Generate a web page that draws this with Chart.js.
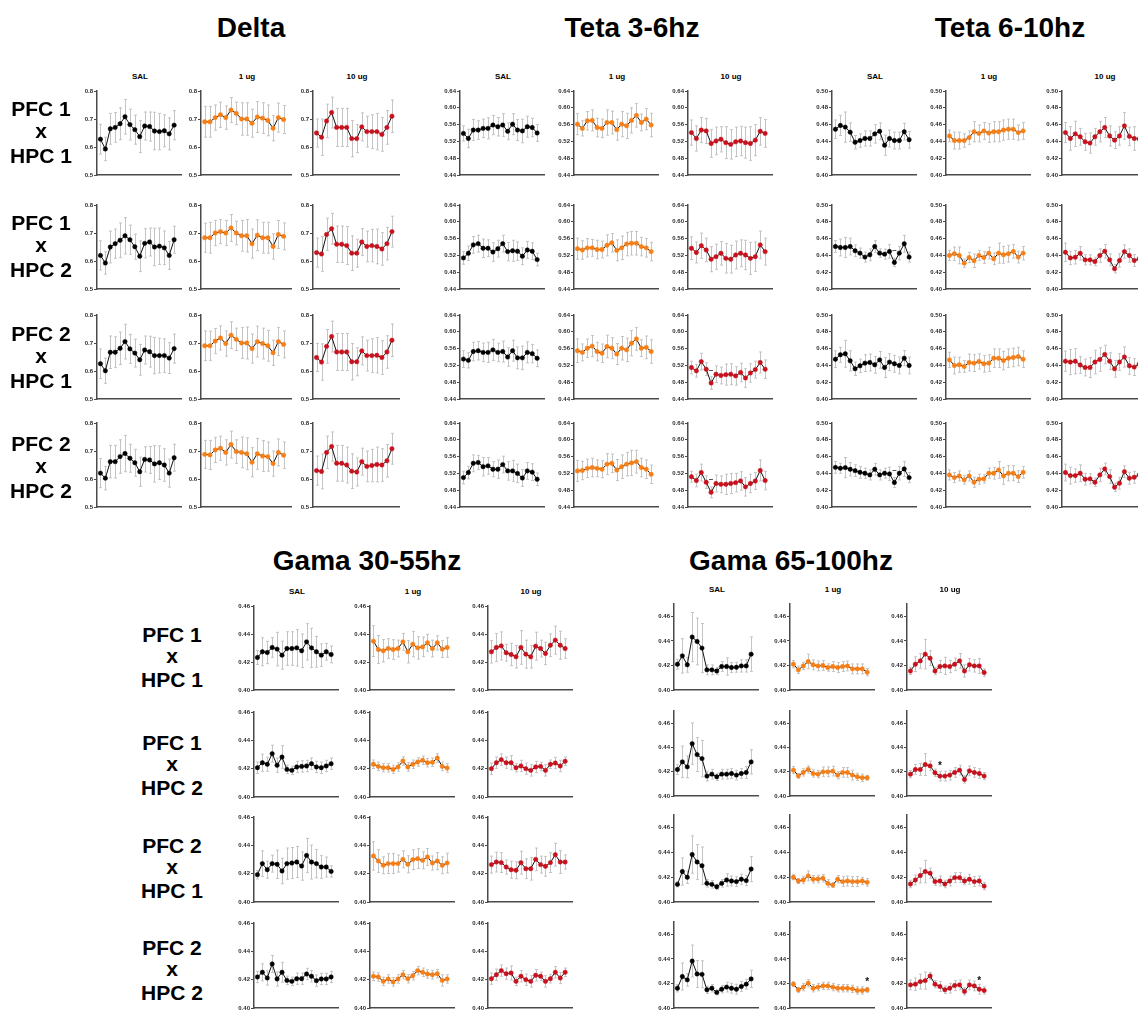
<!DOCTYPE html>
<html>
<head>
<meta charset="utf-8">
<script src="https://cdn.jsdelivr.net/npm/chart.js@4.4.1/dist/chart.umd.min.js"></script>
<style>
  html, body { margin: 0; padding: 0; background: #fff; }
  #page { position: relative; width: 1138px; height: 1010px; overflow: hidden;
          font-family: "Liberation Sans", Arial, sans-serif; color: #000; }
  .t { position: absolute; transform: translate(-50%, -50%); line-height: 1;
       font-weight: bold; white-space: nowrap; }
  canvas { position: absolute; }
</style>
</head>
<body>
<div id="page"></div>
<script>
// ---------- labels ----------
const bandTitles = ['Delta', 'Teta 3-6hz', 'Teta 6-10hz', 'Gama 30-55hz', 'Gama 65-100hz'];
const conditions = ['SAL', '1 ug', '10 ug'];
const pairLabels = [['PFC 1', 'x', 'HPC 1'], ['PFC 1', 'x', 'HPC 2'], ['PFC 2', 'x', 'HPC 1'], ['PFC 2', 'x', 'HPC 2']];

// ---------- y tick values per band ----------
const deltaTicks = [0.5, 0.6, 0.7, 0.8];
const teta36Ticks = [0.44, 0.48, 0.52, 0.56, 0.60, 0.64];
const teta610Ticks = [0.40, 0.42, 0.44, 0.46, 0.48, 0.50];
const gama3055Ticks = [0.40, 0.42, 0.44, 0.46];
const gama65100Ticks = [0.40, 0.42, 0.44, 0.46];

// ---------- coherence means (rows: PFC1xHPC1, PFC1xHPC2, PFC2xHPC1, PFC2xHPC2) ----------
const deltaSAL = [
  [0.628,0.593,0.665,0.670,0.683,0.708,0.680,0.662,0.637,0.675,0.673,0.657,0.655,0.658,0.647,0.678],
  [0.620,0.593,0.650,0.662,0.674,0.690,0.676,0.651,0.617,0.663,0.668,0.650,0.653,0.647,0.620,0.676],
  [0.626,0.601,0.667,0.667,0.681,0.705,0.679,0.664,0.640,0.675,0.669,0.655,0.655,0.655,0.646,0.680],
  [0.621,0.603,0.662,0.662,0.680,0.691,0.674,0.658,0.626,0.670,0.668,0.654,0.658,0.650,0.621,0.676]];
const deltaSALsd = [
  [0.053,0.042,0.055,0.053,0.057,0.062,0.055,0.052,0.057,0.050,0.052,0.067,0.065,0.057,0.057,0.052],
  [0.052,0.040,0.057,0.052,0.062,0.065,0.052,0.045,0.055,0.052,0.050,0.067,0.065,0.060,0.050,0.048],
  [0.053,0.045,0.058,0.055,0.058,0.062,0.052,0.050,0.055,0.050,0.055,0.065,0.062,0.060,0.055,0.052],
  [0.052,0.042,0.058,0.058,0.060,0.065,0.050,0.048,0.052,0.045,0.048,0.065,0.060,0.058,0.050,0.048]];
const delta1ug = [
  [0.690,0.690,0.705,0.715,0.705,0.732,0.720,0.700,0.700,0.685,0.707,0.703,0.695,0.667,0.705,0.698],
  [0.683,0.683,0.700,0.705,0.700,0.718,0.700,0.690,0.690,0.662,0.692,0.683,0.683,0.652,0.695,0.688],
  [0.690,0.690,0.707,0.718,0.698,0.728,0.713,0.700,0.700,0.680,0.705,0.698,0.690,0.665,0.705,0.695],
  [0.688,0.686,0.704,0.710,0.695,0.723,0.698,0.695,0.690,0.660,0.690,0.682,0.680,0.655,0.695,0.685]];
const delta1ugSd = [
  [0.055,0.055,0.045,0.045,0.042,0.045,0.040,0.058,0.058,0.050,0.055,0.055,0.055,0.045,0.052,0.050],
  [0.052,0.055,0.045,0.043,0.045,0.048,0.042,0.055,0.058,0.052,0.055,0.055,0.055,0.045,0.050,0.048],
  [0.053,0.052,0.045,0.043,0.045,0.048,0.040,0.055,0.057,0.052,0.055,0.055,0.055,0.045,0.050,0.048],
  [0.050,0.052,0.045,0.043,0.045,0.048,0.042,0.055,0.057,0.052,0.055,0.055,0.052,0.045,0.048,0.047]];
const delta10ug = [
  [0.650,0.635,0.693,0.723,0.670,0.670,0.670,0.630,0.630,0.672,0.655,0.655,0.655,0.645,0.670,0.710],
  [0.630,0.625,0.695,0.715,0.660,0.660,0.655,0.628,0.628,0.668,0.652,0.655,0.652,0.643,0.662,0.705],
  [0.648,0.632,0.688,0.723,0.668,0.668,0.668,0.633,0.633,0.672,0.655,0.655,0.656,0.648,0.668,0.710],
  [0.630,0.627,0.695,0.716,0.656,0.656,0.650,0.628,0.625,0.662,0.645,0.648,0.652,0.650,0.665,0.708]];
const delta10ugSd = [
  [0.050,0.065,0.060,0.055,0.068,0.068,0.068,0.065,0.050,0.050,0.055,0.060,0.065,0.060,0.060,0.058],
  [0.052,0.062,0.058,0.055,0.065,0.065,0.068,0.062,0.050,0.048,0.055,0.058,0.062,0.058,0.058,0.055],
  [0.050,0.065,0.060,0.055,0.066,0.066,0.066,0.065,0.050,0.050,0.055,0.060,0.063,0.060,0.058,0.058],
  [0.052,0.062,0.058,0.052,0.064,0.064,0.064,0.062,0.050,0.048,0.055,0.058,0.062,0.058,0.058,0.055]];

const teta36SAL = [
  [0.539,0.527,0.547,0.547,0.551,0.551,0.559,0.555,0.559,0.544,0.561,0.547,0.545,0.555,0.553,0.540],
  [0.514,0.525,0.545,0.548,0.537,0.537,0.528,0.536,0.548,0.529,0.531,0.530,0.518,0.533,0.530,0.510],
  [0.535,0.532,0.553,0.555,0.551,0.551,0.557,0.551,0.553,0.540,0.555,0.538,0.538,0.551,0.548,0.537],
  [0.510,0.522,0.544,0.546,0.536,0.538,0.530,0.530,0.541,0.526,0.526,0.520,0.509,0.526,0.523,0.506]];
const teta36SALsd = [
  [0.018,0.022,0.025,0.022,0.022,0.025,0.023,0.022,0.027,0.020,0.025,0.025,0.028,0.025,0.022,0.020],
  [0.015,0.017,0.020,0.020,0.022,0.020,0.022,0.020,0.020,0.022,0.025,0.022,0.020,0.020,0.020,0.015],
  [0.020,0.018,0.022,0.022,0.022,0.024,0.025,0.022,0.025,0.022,0.025,0.026,0.028,0.025,0.022,0.020],
  [0.015,0.015,0.020,0.017,0.022,0.020,0.018,0.022,0.020,0.022,0.025,0.022,0.020,0.020,0.020,0.015]];
const teta361ug = [
  [0.561,0.551,0.569,0.570,0.553,0.551,0.565,0.565,0.548,0.561,0.557,0.570,0.582,0.565,0.573,0.559],
  [0.536,0.533,0.538,0.538,0.534,0.534,0.544,0.550,0.532,0.538,0.547,0.549,0.549,0.541,0.538,0.529],
  [0.555,0.551,0.561,0.566,0.553,0.549,0.565,0.561,0.547,0.561,0.557,0.573,0.583,0.561,0.563,0.553],
  [0.526,0.527,0.532,0.534,0.532,0.530,0.542,0.544,0.528,0.536,0.542,0.545,0.548,0.534,0.530,0.518]];
const teta361ugSd = [
  [0.025,0.018,0.022,0.025,0.022,0.022,0.030,0.027,0.025,0.030,0.030,0.030,0.028,0.020,0.025,0.028],
  [0.025,0.022,0.022,0.020,0.022,0.020,0.025,0.022,0.025,0.028,0.028,0.028,0.028,0.022,0.022,0.022],
  [0.028,0.020,0.022,0.025,0.022,0.022,0.027,0.025,0.025,0.028,0.028,0.030,0.027,0.020,0.027,0.028],
  [0.025,0.022,0.022,0.022,0.020,0.020,0.025,0.022,0.025,0.028,0.028,0.030,0.027,0.022,0.022,0.022]];
const teta3610ug = [
  [0.541,0.527,0.547,0.545,0.515,0.521,0.525,0.517,0.513,0.519,0.521,0.517,0.515,0.523,0.544,0.539],
  [0.537,0.527,0.543,0.533,0.511,0.517,0.525,0.513,0.511,0.521,0.525,0.521,0.513,0.517,0.545,0.529],
  [0.515,0.507,0.529,0.511,0.478,0.499,0.496,0.498,0.499,0.495,0.503,0.490,0.502,0.510,0.527,0.511],
  [0.512,0.503,0.522,0.499,0.475,0.496,0.494,0.494,0.496,0.498,0.502,0.488,0.496,0.502,0.527,0.503]];
const teta3610ugSd = [
  [0.030,0.030,0.030,0.030,0.033,0.033,0.030,0.038,0.035,0.035,0.035,0.037,0.040,0.037,0.033,0.033],
  [0.027,0.025,0.030,0.028,0.030,0.030,0.028,0.035,0.033,0.033,0.032,0.035,0.038,0.035,0.033,0.032],
  [0.015,0.015,0.020,0.015,0.015,0.020,0.020,0.025,0.025,0.022,0.022,0.022,0.022,0.020,0.025,0.022],
  [0.013,0.015,0.020,0.015,0.013,0.020,0.020,0.024,0.024,0.022,0.022,0.022,0.022,0.020,0.025,0.022]];

const teta610SAL = [
  [0.4545,0.4590,0.4570,0.4510,0.4390,0.4410,0.4435,0.4435,0.4490,0.4520,0.4355,0.4435,0.4410,0.4410,0.4515,0.4420],
  [0.4506,0.4494,0.4494,0.4506,0.4455,0.4427,0.4380,0.4407,0.4506,0.4427,0.4415,0.4447,0.4316,0.4427,0.4538,0.4380],
  [0.4474,0.4526,0.4538,0.4455,0.4360,0.4395,0.4427,0.4435,0.4407,0.4466,0.4375,0.4439,0.4419,0.4399,0.4486,0.4399],
  [0.4472,0.4461,0.4469,0.4449,0.4433,0.4413,0.4402,0.4382,0.4449,0.4382,0.4402,0.4394,0.4291,0.4402,0.4453,0.4350]];
const teta610SALsd = [
  [0.011,0.012,0.018,0.011,0.008,0.008,0.009,0.009,0.011,0.010,0.012,0.010,0.010,0.010,0.010,0.010],
  [0.007,0.010,0.012,0.010,0.007,0.006,0.006,0.007,0.007,0.005,0.006,0.008,0.005,0.008,0.010,0.006],
  [0.010,0.009,0.016,0.012,0.008,0.008,0.010,0.010,0.010,0.010,0.012,0.010,0.010,0.010,0.009,0.010],
  [0.007,0.006,0.012,0.008,0.007,0.007,0.006,0.006,0.007,0.006,0.006,0.008,0.006,0.008,0.009,0.006]];
const teta6101ug = [
  [0.4465,0.4410,0.4410,0.4410,0.4445,0.4515,0.4495,0.4525,0.4500,0.4515,0.4515,0.4535,0.4545,0.4545,0.4505,0.4525],
  [0.4400,0.4420,0.4400,0.4308,0.4375,0.4336,0.4400,0.4375,0.4427,0.4360,0.4427,0.4407,0.4420,0.4447,0.4380,0.4427],
  [0.4466,0.4399,0.4407,0.4387,0.4435,0.4427,0.4447,0.4419,0.4427,0.4486,0.4486,0.4458,0.4486,0.4494,0.4506,0.4474],
  [0.4382,0.4350,0.4370,0.4323,0.4370,0.4295,0.4331,0.4335,0.4402,0.4402,0.4441,0.4370,0.4402,0.4402,0.4362,0.4413]];
const teta6101ugSd = [
  [0.007,0.010,0.010,0.008,0.008,0.012,0.010,0.010,0.011,0.012,0.012,0.012,0.012,0.012,0.009,0.010],
  [0.006,0.008,0.010,0.005,0.006,0.008,0.006,0.007,0.007,0.007,0.012,0.010,0.010,0.008,0.007,0.008],
  [0.009,0.010,0.009,0.007,0.010,0.010,0.009,0.010,0.010,0.011,0.011,0.011,0.011,0.011,0.011,0.010],
  [0.006,0.006,0.006,0.005,0.006,0.006,0.006,0.005,0.006,0.007,0.010,0.010,0.009,0.009,0.007,0.007]];
const teta61010ug = [
  [0.4505,0.4435,0.4490,0.4455,0.4395,0.4380,0.4455,0.4515,0.4565,0.4465,0.4415,0.4465,0.4585,0.4460,0.4435,0.4430],
  [0.4437,0.4370,0.4378,0.4425,0.4347,0.4347,0.4327,0.4398,0.4449,0.4347,0.4241,0.4339,0.4445,0.4398,0.4339,0.4360],
  [0.4450,0.4440,0.4450,0.4405,0.4375,0.4375,0.4440,0.4470,0.4530,0.4450,0.4360,0.4440,0.4500,0.4395,0.4380,0.4415],
  [0.4410,0.4374,0.4374,0.4402,0.4331,0.4335,0.4295,0.4382,0.4453,0.4362,0.4236,0.4283,0.4421,0.4343,0.4354,0.4382]];
const teta61010ugSd = [
  [0.012,0.014,0.015,0.010,0.010,0.012,0.010,0.012,0.012,0.012,0.010,0.011,0.016,0.011,0.014,0.010],
  [0.011,0.008,0.008,0.008,0.006,0.006,0.005,0.008,0.008,0.007,0.005,0.008,0.008,0.008,0.007,0.007],
  [0.012,0.015,0.015,0.010,0.010,0.012,0.014,0.014,0.011,0.010,0.010,0.010,0.012,0.010,0.010,0.010],
  [0.010,0.010,0.008,0.010,0.007,0.006,0.005,0.008,0.007,0.008,0.005,0.007,0.007,0.007,0.007,0.008]];

const gama3055SAL = [
  [0.4232,0.4273,0.4268,0.4304,0.4292,0.4249,0.4296,0.4296,0.4301,0.4280,0.4344,0.4301,0.4273,0.4249,0.4273,0.4254],
  [0.4207,0.4242,0.4231,0.4306,0.4224,0.4282,0.4195,0.4188,0.4212,0.4216,0.4219,0.4235,0.4212,0.4207,0.4219,0.4235],
  [0.4193,0.4271,0.4228,0.4271,0.4266,0.4219,0.4271,0.4275,0.4282,0.4254,0.4329,0.4282,0.4271,0.4247,0.4247,0.4216],
  [0.4219,0.4252,0.4212,0.4311,0.4205,0.4252,0.4195,0.4188,0.4207,0.4207,0.4240,0.4224,0.4193,0.4205,0.4205,0.4219]];
const gama3055SALsd = [
  [0.005,0.010,0.008,0.007,0.012,0.010,0.012,0.012,0.013,0.012,0.013,0.014,0.011,0.008,0.006,0.006],
  [0.004,0.006,0.005,0.006,0.005,0.008,0.003,0.003,0.004,0.004,0.004,0.004,0.004,0.004,0.004,0.004],
  [0.003,0.009,0.006,0.006,0.010,0.009,0.011,0.011,0.011,0.010,0.012,0.012,0.010,0.008,0.007,0.004],
  [0.004,0.006,0.005,0.006,0.005,0.007,0.003,0.003,0.004,0.004,0.004,0.004,0.004,0.004,0.004,0.004]];
const gama30551ug = [
  [0.4349,0.4289,0.4280,0.4296,0.4289,0.4296,0.4344,0.4273,0.4327,0.4301,0.4308,0.4337,0.4296,0.4337,0.4292,0.4304],
  [0.4231,0.4216,0.4207,0.4207,0.4195,0.4212,0.4254,0.4212,0.4231,0.4247,0.4259,0.4242,0.4245,0.4275,0.4216,0.4205],
  [0.4325,0.4289,0.4259,0.4271,0.4271,0.4271,0.4301,0.4266,0.4299,0.4306,0.4294,0.4318,0.4275,0.4289,0.4259,0.4275],
  [0.4224,0.4219,0.4188,0.4205,0.4184,0.4205,0.4235,0.4207,0.4228,0.4264,0.4252,0.4240,0.4235,0.4242,0.4195,0.4205]];
const gama30551ugSd = [
  [0.011,0.010,0.008,0.007,0.007,0.006,0.006,0.008,0.009,0.008,0.007,0.006,0.006,0.005,0.006,0.007],
  [0.003,0.003,0.003,0.003,0.003,0.003,0.003,0.003,0.003,0.003,0.003,0.003,0.003,0.003,0.003,0.003],
  [0.010,0.008,0.006,0.007,0.007,0.006,0.006,0.006,0.007,0.007,0.006,0.006,0.005,0.006,0.006,0.007],
  [0.003,0.003,0.003,0.003,0.003,0.003,0.003,0.003,0.003,0.003,0.003,0.003,0.003,0.003,0.004,0.003]];
const gama305510ug = [
  [0.4273,0.4304,0.4315,0.4266,0.4254,0.4237,0.4304,0.4256,0.4237,0.4313,0.4296,0.4261,0.4320,0.4356,0.4320,0.4296],
  [0.4200,0.4242,0.4264,0.4242,0.4242,0.4207,0.4219,0.4200,0.4188,0.4212,0.4216,0.4188,0.4231,0.4240,0.4219,0.4252],
  [0.4264,0.4282,0.4278,0.4247,0.4228,0.4224,0.4278,0.4235,0.4235,0.4301,0.4264,0.4252,0.4278,0.4334,0.4282,0.4282],
  [0.4207,0.4235,0.4264,0.4242,0.4247,0.4188,0.4224,0.4200,0.4188,0.4231,0.4224,0.4188,0.4207,0.4252,0.4212,0.4252]];
const gama305510ugSd = [
  [0.008,0.010,0.010,0.006,0.008,0.008,0.012,0.010,0.008,0.010,0.006,0.008,0.008,0.010,0.010,0.007],
  [0.004,0.004,0.004,0.004,0.005,0.003,0.004,0.004,0.004,0.004,0.003,0.004,0.003,0.004,0.004,0.003],
  [0.006,0.007,0.007,0.005,0.006,0.006,0.008,0.007,0.008,0.008,0.006,0.007,0.007,0.008,0.008,0.005],
  [0.004,0.004,0.004,0.004,0.005,0.003,0.004,0.004,0.004,0.004,0.003,0.004,0.003,0.004,0.004,0.003]];

const gama65100SAL = [
  [0.4210,0.4278,0.4205,0.4431,0.4395,0.4341,0.4164,0.4164,0.4155,0.4191,0.4191,0.4183,0.4185,0.4196,0.4196,0.4292],
  [0.4218,0.4281,0.4240,0.4431,0.4341,0.4308,0.4164,0.4180,0.4158,0.4180,0.4180,0.4185,0.4172,0.4185,0.4194,0.4281],
  [0.4142,0.4245,0.4199,0.4382,0.4322,0.4292,0.4150,0.4142,0.4123,0.4150,0.4177,0.4169,0.4164,0.4183,0.4172,0.4265],
  [0.4161,0.4256,0.4229,0.4382,0.4277,0.4274,0.4148,0.4161,0.4127,0.4153,0.4170,0.4161,0.4153,0.4175,0.4194,0.4237]];
const gama65100SALsd = [
  [0.004,0.014,0.006,0.020,0.019,0.020,0.004,0.004,0.003,0.004,0.007,0.004,0.004,0.005,0.005,0.014],
  [0.004,0.013,0.009,0.017,0.014,0.015,0.004,0.004,0.003,0.004,0.004,0.004,0.004,0.004,0.005,0.010],
  [0.002,0.011,0.005,0.015,0.014,0.015,0.003,0.003,0.002,0.003,0.005,0.004,0.004,0.004,0.004,0.010],
  [0.003,0.011,0.005,0.013,0.011,0.011,0.003,0.003,0.002,0.003,0.004,0.004,0.004,0.004,0.004,0.007]];
const gama651001ug = [
  [0.4210,0.4164,0.4196,0.4232,0.4205,0.4196,0.4199,0.4183,0.4191,0.4183,0.4191,0.4196,0.4172,0.4172,0.4172,0.4145],
  [0.4213,0.4166,0.4194,0.4218,0.4185,0.4180,0.4199,0.4199,0.4205,0.4172,0.4194,0.4194,0.4172,0.4158,0.4150,0.4150],
  [0.4199,0.4169,0.4177,0.4210,0.4183,0.4185,0.4191,0.4150,0.4136,0.4183,0.4164,0.4169,0.4164,0.4164,0.4169,0.4158],
  [0.4194,0.4148,0.4170,0.4202,0.4161,0.4170,0.4180,0.4180,0.4170,0.4161,0.4161,0.4161,0.4156,0.4143,0.4143,0.4148]];
const gama651001ugSd = [
  [0.003,0.003,0.003,0.006,0.004,0.004,0.004,0.003,0.004,0.004,0.004,0.004,0.004,0.004,0.004,0.003],
  [0.003,0.002,0.003,0.003,0.003,0.003,0.004,0.004,0.004,0.003,0.004,0.004,0.004,0.003,0.003,0.002],
  [0.002,0.002,0.003,0.004,0.003,0.003,0.003,0.003,0.002,0.003,0.004,0.004,0.004,0.004,0.003,0.003],
  [0.002,0.002,0.003,0.003,0.003,0.003,0.003,0.003,0.003,0.003,0.003,0.003,0.003,0.003,0.003,0.002]];
const gama6510010ug = [
  [0.4155,0.4210,0.4237,0.4292,0.4259,0.4155,0.4191,0.4196,0.4191,0.4210,0.4237,0.4155,0.4205,0.4196,0.4196,0.4142],
  [0.4180,0.4218,0.4218,0.4259,0.4248,0.4191,0.4164,0.4164,0.4172,0.4194,0.4213,0.4136,0.4207,0.4194,0.4185,0.4164],
  [0.4145,0.4177,0.4213,0.4245,0.4232,0.4164,0.4169,0.4145,0.4169,0.4196,0.4196,0.4169,0.4183,0.4164,0.4169,0.4128],
  [0.4188,0.4194,0.4215,0.4223,0.4261,0.4194,0.4175,0.4148,0.4161,0.4183,0.4188,0.4135,0.4188,0.4180,0.4153,0.4143]];
const gama6510010ugSd = [
  [0.003,0.006,0.006,0.012,0.006,0.003,0.005,0.007,0.005,0.005,0.006,0.005,0.005,0.005,0.006,0.003],
  [0.003,0.004,0.005,0.009,0.004,0.003,0.004,0.004,0.004,0.004,0.004,0.003,0.004,0.004,0.004,0.003],
  [0.003,0.004,0.006,0.009,0.004,0.003,0.004,0.003,0.004,0.004,0.004,0.003,0.004,0.004,0.004,0.003],
  [0.004,0.005,0.006,0.007,0.003,0.003,0.004,0.003,0.004,0.004,0.004,0.003,0.004,0.004,0.004,0.003]];

// significance marks: [band, row, condition, point index, value, symbol]
const sigMarks = [
  [1, 2, 2, 4, 0.510, '\u2013'], [1, 3, 2, 4, 0.506, '\u2013'],
  [2, 1, 0, 12, 0.4467, '\u2013'], [2, 3, 0, 12, 0.4441, '\u2013'],
  [4, 1, 2, 6, 0.4262, '*'], [4, 3, 1, 15, 0.4229, '*'], [4, 3, 2, 14, 0.4237, '*']
];

// ---------- styling ----------
const condColors = ['#000000', '#f77f17', '#c8111c'];
const FONT = "'Liberation Sans', Arial, sans-serif";
const AXIS = '#4a4a4a';

// band table assembled from the arrays above
const bands = [
  { title: bandTitles[0], means: [deltaSAL, delta1ug, delta10ug], sds: [deltaSALsd, delta1ugSd, delta10ugSd],
    ticks: deltaTicks, yMin: 0.5, yMax: 0.8, dec: 1 },
  { title: bandTitles[1], means: [teta36SAL, teta361ug, teta3610ug], sds: [teta36SALsd, teta361ugSd, teta3610ugSd],
    ticks: teta36Ticks, yMin: 0.44, yMax: 0.64, dec: 2 },
  { title: bandTitles[2], means: [teta610SAL, teta6101ug, teta61010ug], sds: [teta610SALsd, teta6101ugSd, teta61010ugSd],
    ticks: teta610Ticks, yMin: 0.40, yMax: 0.50, dec: 2 },
  { title: bandTitles[3], means: [gama3055SAL, gama30551ug, gama305510ug], sds: [gama3055SALsd, gama30551ugSd, gama305510ugSd],
    ticks: gama3055Ticks, yMin: 0.40, yMax: 0.46, dec: 2 },
  { title: bandTitles[4], means: [gama65100SAL, gama651001ug, gama6510010ug], sds: [gama65100SALsd, gama651001ugSd, gama6510010ugSd],
    ticks: gama65100Ticks, yMin: 0.40, yMax: 0.47, dec: 2 }
];

// ---------- page geometry ----------
const topRows = { tops: [91, 205, 315, 423], bottoms: [175, 289, 399, 507] };
const geo = [
  { axes: [97, 201, 313], widths: [86, 92, 88], rows: topRows, title: [251, 28], subY: 77 },
  { axes: [460, 574, 688], widths: [86, 86, 86], rows: topRows, title: [632, 28], subY: 77 },
  { axes: [832, 946, 1062], widths: [86, 86, 86], rows: topRows, title: [1010, 28], subY: 77 },
  { axes: [254, 370, 488], widths: [86, 86, 86], rows: { tops: [606, 712, 817, 923], bottoms: [690, 797, 902, 1008] }, title: [367, 561], subY: 592 },
  { axes: [674, 790, 907], widths: [86, 86, 86], rows: { tops: [604, 711, 815, 922], bottoms: [690, 796, 902, 1008] }, title: [791, 561], subY: 590 }
];
const rowLabelSets = [
  { x: 41, mid: [132, 246, 357, 467], up: 24, down: 23 },
  { x: 172, mid: [657, 765, 868, 970], up: 23.5, down: 22 }
];

const page = document.getElementById('page');
function addText(txt, x, y, size) {
  const d = document.createElement('div');
  d.className = 't';
  d.textContent = txt;
  d.style.left = x + 'px';
  d.style.top = y + 'px';
  d.style.fontSize = size + 'px';
  page.appendChild(d);
}

// error bars drawn behind the line and points
const errorBars = {
  id: 'errorBars',
  beforeDatasetsDraw(chart) {
    const ds = chart.data.datasets[0];
    const { ctx, scales: { x, y } } = chart;
    ctx.save();
    ctx.strokeStyle = '#c4c4c4';
    ctx.lineWidth = 1;
    ds.data.forEach((p, i) => {
      const px = Math.round(x.getPixelForValue(p.x)) + 0.5;
      const yt = y.getPixelForValue(p.y + ds.sd[i]);
      const yb = y.getPixelForValue(p.y - ds.sd[i]);
      ctx.beginPath();
      ctx.moveTo(px, yt); ctx.lineTo(px, yb);
      ctx.moveTo(px - 1.5, yt); ctx.lineTo(px + 1.5, yt);
      ctx.moveTo(px - 1.5, yb); ctx.lineTo(px + 1.5, yb);
      ctx.stroke();
    });
    ctx.restore();
  },
  afterDatasetsDraw(chart) {
    const ds = chart.data.datasets[0];
    const { ctx, scales: { x, y } } = chart;
    ctx.save();
    ctx.fillStyle = '#111';
    ctx.textAlign = 'center';
    ctx.textBaseline = 'middle';
    ds.marks.forEach(m => {
      ctx.font = 'bold ' + (m.sym === '*' ? 10 : 8) + 'px ' + FONT;
      ctx.fillText(m.sym, x.getPixelForValue(m.idx), y.getPixelForValue(m.val) + (m.sym === '*' ? 2 : 0));
    });
    ctx.restore();
  }
};

const LEFT = 30, PAD = 6, RPAD = 3;

function panel(b, r, c) {
  const band = bands[b], g = geo[b];
  const axisX = g.axes[c], w = g.widths[c];
  const top = g.rows.tops[r], bottom = g.rows.bottoms[r];
  const cv = document.createElement('canvas');
  const cw = LEFT + w + RPAD, ch = bottom - top + 2 * PAD;
  cv.width = cw; cv.height = ch;
  cv.style.width = cw + 'px'; cv.style.height = ch + 'px';
  cv.style.left = (axisX - LEFT) + 'px';
  cv.style.top = (top - PAD) + 'px';
  page.appendChild(cv);

  const means = band.means[c][r];
  const marks = sigMarks.filter(m => m[0] === b && m[1] === r && m[2] === c)
                        .map(m => ({ idx: m[3], val: m[4], sym: m[5] }));
  new Chart(cv, {
    type: 'line',
    data: {
      datasets: [{
        data: means.map((v, i) => ({ x: i, y: v })),
        sd: band.sds[c][r],
        marks: marks,
        borderColor: '#111',
        borderWidth: 1,
        tension: 0,
        pointRadius: 2.2,
        pointBackgroundColor: condColors[c],
        pointBorderColor: condColors[c],
        pointBorderWidth: 0.5,
        clip: false
      }]
    },
    options: {
      responsive: false,
      animation: false,
      devicePixelRatio: 1,
      layout: { padding: { top: PAD, bottom: PAD, left: 0, right: RPAD } },
      plugins: { legend: { display: false }, tooltip: { enabled: false } },
      scales: {
        x: {
          type: 'linear', min: -0.7, max: 16.5,
          ticks: { display: false },
          grid: { display: false },
          border: { color: AXIS, width: 1.5 },
          afterFit(s) { s.height = 0; }
        },
        y: {
          min: band.yMin, max: band.yMax,
          afterBuildTicks(s) { s.ticks = band.ticks.map(v => ({ value: v })); },
          ticks: {
            callback: v => Number(v).toFixed(band.dec),
            font: { family: FONT, size: 6, weight: 'bold' },
            color: '#2a2a2a',
            padding: 1
          },
          grid: { drawOnChartArea: false, drawTicks: true, tickLength: 3, color: AXIS, lineWidth: 1 },
          border: { color: AXIS, width: 1.5 },
          afterFit(s) { s.width = LEFT; }
        }
      }
    },
    plugins: [errorBars]
  });
}

// titles, condition headers and panels
bands.forEach((band, b) => {
  const g = geo[b];
  addText(band.title, g.title[0], g.title[1], 28);
  conditions.forEach((cond, c) => addText(cond, g.axes[c] + g.widths[c] / 2, g.subY, 8));
  for (let r = 0; r < 4; r++) for (let c = 0; c < 3; c++) panel(b, r, c);
});

// electrode pair labels
rowLabelSets.forEach(set => {
  pairLabels.forEach((lines, r) => {
    const m = set.mid[r];
    addText(lines[0], set.x, m - set.up, 21);
    addText(lines[1], set.x, m - 2, 21);
    addText(lines[2], set.x, m + set.down, 21);
  });
});
</script>
</body>
</html>
